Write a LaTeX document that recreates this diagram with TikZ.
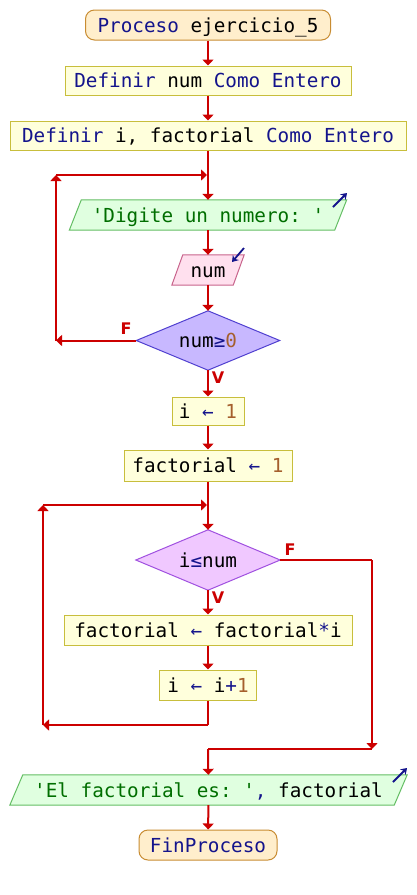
\documentclass[tikz,border=0pt]{standalone}
\usepackage{fontspec}
\setmonofont{DejaVu Sans Mono}
\newfontfamily\lblfont{DejaVu Sans}
\usetikzlibrary{arrows.meta,backgrounds}
\definecolor{flowred}{RGB}{204,0,0}
\definecolor{kwc}{RGB}{20,20,140}
\definecolor{strc}{RGB}{0,110,0}
\definecolor{numc}{RGB}{165,95,45}
\definecolor{termfill}{RGB}{255,238,204}
\definecolor{termdraw}{RGB}{200,140,50}
\definecolor{procfill}{RGB}{255,255,220}
\definecolor{procdraw}{RGB}{200,190,60}
\definecolor{infill}{RGB}{224,255,224}
\definecolor{indraw}{RGB}{100,190,100}
\definecolor{rdfill}{RGB}{255,224,238}
\definecolor{rddraw}{RGB}{200,100,140}
\definecolor{donefill}{RGB}{200,184,255}
\definecolor{donedraw}{RGB}{80,64,208}
\definecolor{dtwofill}{RGB}{240,200,255}
\definecolor{dtwodraw}{RGB}{160,80,224}
\newcommand\pkw[1]{\textcolor{kwc}{#1}}
\newcommand\pstrg[1]{\textcolor{strc}{#1}}
\newcommand\pnum[1]{\textcolor{numc}{#1}}
\newcommand\apo{\char39\relax}
\tikzset{
  base/.style={font=\ttfamily\fontsize{19.3}{20}\selectfont, inner sep=0pt, text height=14pt, text depth=0pt, anchor=center},
  term/.style={base, draw=termdraw, fill=termfill, rounded corners=9pt, line width=1pt},
  proc/.style={base, draw=procdraw, fill=procfill, line width=1pt},
  plain/.style={base},
  flow/.style={draw=flowred, line width=2pt, -{Triangle[width=11pt,length=6pt]}},
  seg/.style={draw=flowred, line width=2pt},
  lbl/.style={text=flowred, font=\lblfont\bfseries\fontsize{16}{16}\selectfont, inner sep=0pt},
  ioarrow/.style={draw=kwc, line width=1.8pt, -{Stealth[width=8pt,length=6pt]}},
}
\begin{document}
\begin{tikzpicture}[x=1pt,y=-1pt]
\useasboundingbox (0,0) rectangle (416,895);
% nodes
\node[term, minimum width=245pt, minimum height=30pt] (start) at (208,25) {\pkw{Proceso} ejercicio\_5};
\node[proc, minimum width=286pt, minimum height=29pt] (def1) at (208,80.5) {\pkw{Definir} num \pkw{Como Entero}};
\node[proc, minimum width=396pt, minimum height=29pt] (def2) at (208,135.5) {\pkw{Definir} i, factorial \pkw{Como Entero}};
\node[plain, minimum width=265pt, minimum height=30pt] (in1) at (208,215) {\pstrg{\apo Digite un numero: \apo}};
\node[plain, minimum width=61pt, minimum height=30pt] (rd) at (208,270) {num};
\node[plain, minimum width=143pt, minimum height=59pt] (d1) at (208,340.5) {num\pkw{≥}\pnum{0}};
\node[proc, minimum width=72pt, minimum height=28pt] (a1) at (208,411) {i \pkw{←} \pnum{1}};
\node[proc, minimum width=168pt, minimum height=31pt] (a2) at (208,465.5) {factorial \pkw{←} \pnum{1}};
\node[plain, minimum width=144pt, minimum height=60pt] (d2) at (208,560) {i\pkw{≤}num};
\node[proc, minimum width=288pt, minimum height=30pt] (a3) at (208,630) {factorial \pkw{←} factorial\pkw{*}i};
\node[proc, minimum width=97pt, minimum height=30pt] (a4) at (208,685) {i \pkw{←} i\pkw{+}\pnum{1}};
\node[plain, minimum width=384pt, minimum height=30pt] (out) at (208.5,790) {\pstrg{\apo El factorial es: \apo}\pkw{,} factorial};
\node[term, minimum width=138pt, minimum height=30pt] (fin) at (208,845) {\pkw{FinProceso}};
% shapes behind plain nodes
\begin{scope}[on background layer]
\fill[white] (0,0) rectangle (416,895);
\filldraw[fill=infill, draw=indraw, line width=1pt]
  ([xshift=-6pt]in1.south west) -- ([xshift=6pt]in1.north west) -- ([xshift=6pt]in1.north east) -- ([xshift=-6pt]in1.south east) -- cycle;
\filldraw[fill=rdfill, draw=rddraw, line width=1pt]
  ([xshift=-5.5pt]rd.south west) -- ([xshift=5.5pt]rd.north west) -- ([xshift=5.5pt]rd.north east) -- ([xshift=-5.5pt]rd.south east) -- cycle;
\filldraw[fill=infill, draw=indraw, line width=1pt]
  ([xshift=-6.5pt]out.south west) -- ([xshift=6.5pt]out.north west) -- ([xshift=6.5pt]out.north east) -- ([xshift=-6.5pt]out.south east) -- cycle;
\filldraw[fill=donefill, draw=donedraw, line width=1pt]
  (d1.north) -- (d1.east) -- (d1.south) -- (d1.west) -- cycle;
\filldraw[fill=dtwofill, draw=dtwodraw, line width=1pt]
  (d2.north) -- (d2.east) -- (d2.south) -- (d2.west) -- cycle;
\end{scope}
% io markers
\draw[ioarrow] (333,207) -- (347,193);
\draw[ioarrow] (244,248) -- (232,262);
\draw[ioarrow] (393,782) -- (407,768);
% coordinates
\coordinate (j1) at (208,175);
\coordinate (l1t) at (56,175);
\coordinate (l1b) at (56,340.5);
\coordinate (j2) at (208,505);
\coordinate (l2t) at (43,505);
\coordinate (l2b) at (43,725);
\coordinate (c4) at (208,725);
\coordinate (cf) at (372,560);
\coordinate (mr) at (372,749);
\coordinate (m) at (208,749);
% connectors
\draw[flow] (start) -- (def1);
\draw[flow] (def1) -- (def2);
\draw[flow] (def2) -- (in1);
\draw[flow] (in1) -- (rd);
\draw[flow] (rd) -- (d1.north);
\draw[flow] (d1.south) -- (a1);
\draw[flow] (d1.west) -- (l1b);
\draw[flow] (l1b) -- (l1t);
\draw[flow, shorten >=1pt] (l1t) -- (j1);
\draw[flow] (a1) -- (a2);
\draw[flow] (a2) -- (d2.north);
\draw[flow] (d2.south) -- (a3);
\draw[flow] (a3) -- (a4);
\draw[seg] (a4) -- (c4);
\draw[flow] (c4) -- (l2b);
\draw[flow] (l2b) -- (l2t);
\draw[flow, shorten >=1pt] (l2t) -- (j2);
\draw[seg] (d2.east) -- (cf);
\draw[flow] (cf) -- (mr);
\draw[seg] (m) -- (mr);
\draw[flow] (m) -- (out);
\draw[flow] (out) -- (fin);
% labels
\node[lbl] (f1) at (126,329) {F};
\node[lbl] (v1) at (218,378) {V};
\node[lbl] (f2) at (290,550) {F};
\node[lbl] (v2) at (218,598) {V};
\end{tikzpicture}
\end{document}
